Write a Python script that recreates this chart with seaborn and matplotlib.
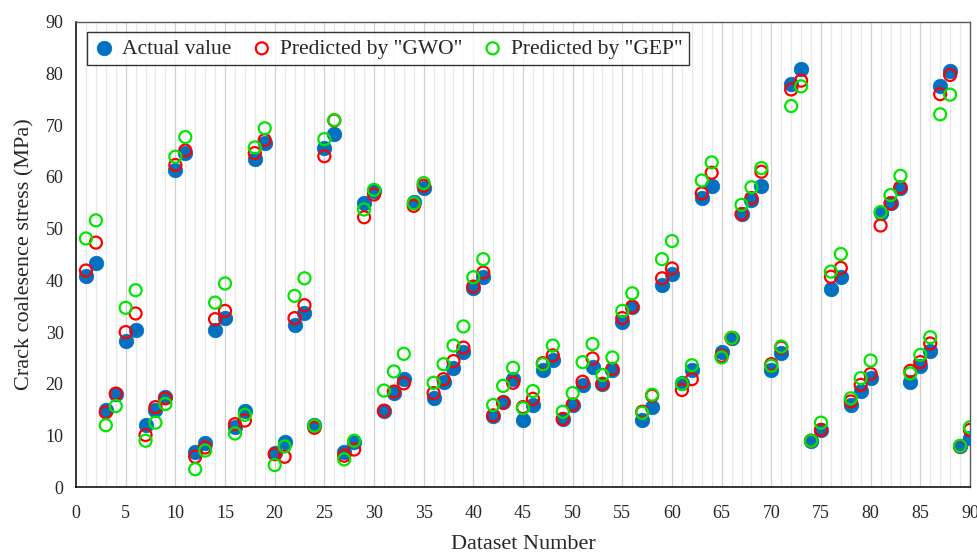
import numpy as np
import pandas as pd
import matplotlib
matplotlib.use("Agg")
import matplotlib.pyplot as plt
import seaborn as sns

# Measured crack coalescence stress and the two model predictions (MPa)
dataset_no = list(range(1, 91))

actual = [40.8, 43.4, 14.9, 18.0, 28.2, 30.4, 12.0, 14.9, 17.4, 61.3,
          64.6, 6.8, 8.5, 30.4, 32.7, 11.7, 14.8, 63.4, 66.5, 6.6,
          8.7, 31.4, 33.6, 12.0, 65.5, 68.3, 6.8, 8.7, 54.9, 57.2,
          14.8, 18.2, 20.9, 55.1, 57.8, 17.2, 20.4, 23.1, 26.2, 38.5,
          40.6, 13.8, 16.4, 20.9, 13.1, 15.9, 22.7, 24.6, 13.2, 15.9,
          19.8, 23.3, 20.0, 22.7, 31.9, 34.8, 13.1, 15.6, 39.1, 41.2,
          20.2, 22.6, 55.9, 58.3, 26.1, 28.8, 52.8, 55.6, 58.2, 22.7,
          25.9, 78.0, 80.9, 9.0, 11.0, 38.4, 40.6, 15.9, 18.7, 21.1,
          53.0, 54.9, 57.9, 20.4, 23.5, 26.4, 77.6, 80.5, 8.0, 9.5]

gwo = [41.9, 47.3, 14.5, 18.1, 30.0, 33.6, 10.1, 15.5, 17.2, 62.3,
       65.1, 5.9, 7.7, 32.5, 34.1, 12.2, 12.9, 64.6, 67.1, 6.4,
       5.9, 32.7, 35.2, 11.5, 64.0, 70.9, 6.1, 7.3, 52.2, 56.6,
       14.8, 18.5, 20.1, 54.4, 58.3, 18.2, 20.9, 24.4, 27.0, 38.8,
       41.5, 13.9, 16.4, 20.2, 15.5, 17.1, 24.0, 25.5, 13.2, 16.0,
       20.4, 24.9, 20.0, 22.9, 32.7, 34.9, 14.6, 17.7, 40.4, 42.3,
       18.8, 20.9, 56.8, 60.8, 25.4, 28.8, 52.8, 55.9, 61.0, 23.8,
       27.0, 76.9, 78.6, 9.0, 11.1, 40.7, 42.4, 16.6, 19.8, 21.9,
       50.6, 54.9, 58.0, 22.5, 24.2, 27.8, 76.0, 79.7, 7.9, 11.1]

gep = [48.1, 51.6, 12.0, 15.7, 34.7, 38.1, 9.0, 12.5, 16.1, 63.9,
       67.7, 3.5, 7.1, 35.7, 39.4, 10.4, 14.0, 65.7, 69.4, 4.3,
       7.9, 37.0, 40.4, 11.9, 67.3, 71.0, 5.4, 9.0, 53.7, 57.5,
       18.7, 22.4, 25.8, 54.9, 58.8, 20.2, 23.8, 27.4, 31.1, 40.6,
       44.1, 15.9, 19.6, 23.1, 15.3, 18.6, 23.8, 27.4, 14.6, 18.2,
       24.2, 27.7, 21.7, 25.1, 34.1, 37.5, 14.4, 17.9, 44.1, 47.6,
       20.0, 23.6, 59.3, 62.8, 25.1, 28.9, 54.6, 58.0, 61.7, 23.5,
       27.2, 73.7, 77.5, 9.0, 12.5, 41.7, 45.1, 17.2, 21.1, 24.5,
       53.2, 56.5, 60.2, 22.0, 25.6, 29.0, 72.1, 75.9, 8.0, 11.6]

df = pd.DataFrame({"Dataset": dataset_no, "Actual": actual,
                   "GWO": gwo, "GEP": gep})

sns.set_theme(style="white")
plt.rcParams["font.family"] = ["Liberation Serif", "DejaVu Serif"]

fig = plt.figure(figsize=(9.77, 5.52), dpi=100)
ax = fig.add_axes([0.0778, 0.1172, 0.9150, 0.8435])

# light vertical grid at every dataset number, slightly darker every 5
for xv in range(1, 90):
    ax.axvline(xv, color="#d0d0d0" if xv % 5 == 0 else "#e8e8e8",
               lw=0.9, zorder=0)

sns.scatterplot(data=df, x="Dataset", y="Actual", ax=ax, s=110,
                color="#0070C0", edgecolor="#0070C0", linewidth=0.5,
                label="Actual value", zorder=3)
sns.scatterplot(data=df, x="Dataset", y="GWO", ax=ax, s=75,
                facecolor="none", edgecolor="#FF0000", linewidth=1.6,
                label='Predicted by "GWO"', zorder=4)
sns.scatterplot(data=df, x="Dataset", y="GEP", ax=ax, s=75,
                facecolor="none", edgecolor="#00E600", linewidth=1.6,
                label='Predicted by "GEP"', zorder=5)

ax.set_xlim(0, 90)
ax.set_ylim(0, 90)
ax.set_xticks(np.arange(0, 91, 5))
ax.set_yticks(np.arange(0, 91, 10))
ax.tick_params(axis="both", which="major", direction="out", length=5,
               width=1.0, color="black", labelsize=13, pad=8)
ax.tick_params(axis="y", pad=4)

ax.set_xlabel("Dataset Number", fontsize=16, labelpad=9)
ax.set_ylabel("Crack coalesence stress (MPa)", fontsize=16, labelpad=8)

for side in ["left", "bottom"]:
    ax.spines[side].set_color("black")
    ax.spines[side].set_linewidth(1.1)
for side in ["top", "right"]:
    ax.spines[side].set_color("#595959")
    ax.spines[side].set_linewidth(1.0)

leg = ax.legend(loc="upper left", ncol=3, frameon=True, fancybox=False,
                edgecolor="black", fontsize=15.5, handlelength=1.0,
                handletextpad=0.35, columnspacing=0.9, borderpad=0.3,
                borderaxespad=0.5)
leg.get_frame().set_linewidth(1.0)

fig.savefig("out.png", dpi=100)
